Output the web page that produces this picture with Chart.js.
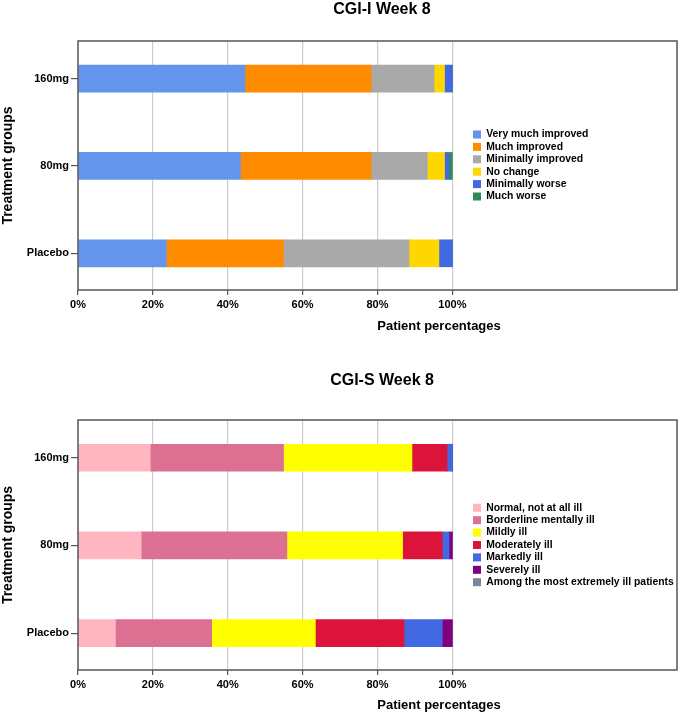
<!DOCTYPE html>
<html><head><meta charset="utf-8">
<script src="https://cdn.jsdelivr.net/npm/chart.js@4/dist/chart.umd.min.js"></script>
<style>
html,body{margin:0;padding:0;background:#fff;overflow:hidden;}
canvas{display:block;}
</style></head>
<body>
<canvas id="c1" width="685" height="359"></canvas>
<canvas id="c2" width="685" height="354"></canvas>
<script>
// ---- data ----
const categories = ['160mg', '80mg', 'Placebo'];
const xTickLabels = ['0%', '20%', '40%', '60%', '80%', '100%'];

const cgiILabels = ['Very much improved', 'Much improved', 'Minimally improved', 'No change', 'Minimally worse', 'Much worse'];
const cgiIColors = ['#6495ED', '#FF8C00', '#A9A9A9', '#FFD700', '#4169E1', '#2E8B57'];
const cgiIVeryMuchImproved = [44.6, 43.4, 23.6];
const cgiIMuchImproved     = [33.7, 34.9, 31.3];
const cgiIMinimallyImproved= [16.8, 15.0, 33.5];
const cgiINoChange         = [2.8, 4.6, 8.0];
const cgiIMinimallyWorse   = [2.1, 1.2, 3.6];
const cgiIMuchWorse        = [0, 0.9, 0];

const cgiSLabels = ['Normal, not at all ill', 'Borderline mentally ill', 'Mildly ill', 'Moderately ill', 'Markedly ill', 'Severely ill', 'Among the most extremely ill patients'];
const cgiSColors = ['#FFB6C1', '#DB7093', '#FFFF00', '#DC143C', '#4169E1', '#800080', '#778899'];
const cgiSNormal      = [19.3, 16.9, 10.0];
const cgiSBorderline  = [35.6, 38.9, 25.7];
const cgiSMildly      = [34.3, 30.9, 27.7];
const cgiSModerately  = [9.4, 10.6, 23.7];
const cgiSMarkedly    = [1.4, 1.8, 10.2];
const cgiSSeverely    = [0, 0.9, 2.7];
const cgiSExtremely   = [0, 0, 0];

// ---- chart ----
Chart.defaults.font.family = '"Liberation Sans", Arial, Helvetica, sans-serif';
Chart.defaults.color = '#000';

const panelLayout = {
  id: 'panelLayout',
  afterLayout(chart, args, opts) {
    const lg = chart.legend;
    if (lg) { lg.left = opts.legendLeft; lg.right = chart.width; lg.width = lg.right - lg.left; }
    const xs = chart.scales.x;
    xs.right = opts.xTitleRight; xs.width = xs.right - xs.left;
    const tb = chart.titleBlock;
    if (tb) { tb.left = opts.titleLeft; tb.right = opts.titleRight; tb.width = tb.right - tb.left; }
  },
  afterDatasetsDraw(chart) {
    const {ctx, chartArea: a} = chart;
    ctx.save();
    ctx.strokeStyle = '#555';
    ctx.lineWidth = 1.5;
    ctx.strokeRect(a.left, a.top, a.right - a.left, a.bottom - a.top);
    ctx.restore();
  }
};

function makeChart(id, titleText, labels, colors, series, cfg) {
  const datasets = labels.map((lab, k) => ({
    label: lab,
    data: categories.map((c, i) => ({x: series[k][i], y: i})),
    backgroundColor: colors[k],
    borderWidth: 0,
    barThickness: 27
  }));
  return new Chart(document.getElementById(id), {
    type: 'bar',
    data: {datasets},
    plugins: [panelLayout],
    options: {
      indexAxis: 'y',
      responsive: false,
      animation: false,
      devicePixelRatio: 1,
      layout: {padding: {left: 0, right: 7, top: 0, bottom: cfg.padBottom}},
      scales: {
        x: {
          type: 'linear', stacked: true, min: 0, max: 160,
          border: {display: false},
          ticks: {stepSize: 20, includeBounds: false, padding: 3,
            font: {size: 11, weight: 'bold'},
            callback: (v, i) => (xTickLabels[i] !== undefined ? xTickLabels[i] : '')},
          grid: {
            tickLength: 5,
            lineWidth: 1.2,
            color: c => (c.tick && c.tick.value > 0 && c.tick.value <= 100 ? '#cccccc' : 'rgba(0,0,0,0)'),
            tickColor: c => (c.tick && c.tick.value <= 100 ? '#555' : 'rgba(0,0,0,0)')
          },
          title: {display: true, text: 'Patient percentages', font: {size: 13, weight: 'bold'},
            padding: {top: cfg.xTitleTop, bottom: cfg.xTitleBottom}}
        },
        y: {
          type: 'linear', stacked: true, reverse: true, min: -0.43, max: 2.42,
          offset: false,
          border: {display: false},
          afterFit: s => { s.width = 78; },
          ticks: {stepSize: 1, includeBounds: false, padding: 2,
            font: {size: 11, weight: 'bold'},
            callback: v => (categories[v] !== undefined ? categories[v] : '')},
          grid: {offset: false, drawOnChartArea: false, tickLength: 7, tickColor: '#555', lineWidth: 1.2},
          title: {display: true, text: 'Treatment groups', font: {size: 14, weight: 'bold'},
            padding: {top: 0, bottom: 2}}
        }
      },
      plugins: {
        panelLayout: {legendLeft: 471, xTitleRight: 800, titleLeft: 78, titleRight: 686},
        title: {display: true, text: titleText, font: {size: 16, weight: 'bold'},
          padding: {top: cfg.titleTop, bottom: cfg.titleBottom}},
        legend: {
          display: true, position: 'right', fullSize: false, maxWidth: 1, align: 'center',
          labels: {boxWidth: 8, boxHeight: 8, padding: 2, font: {size: 10.4, weight: 'bold'}, color: '#000'}
        },
        tooltip: {enabled: true}
      }
    }
  });
}

makeChart('c1', 'CGI-I Week 8', cgiILabels, cgiIColors,
  [cgiIVeryMuchImproved, cgiIMuchImproved, cgiIMinimallyImproved, cgiINoChange, cgiIMinimallyWorse, cgiIMuchWorse],
  {padBottom: 21.2, titleTop: 0, titleBottom: 21.8, xTitleTop: 4, xTitleBottom: 4});

makeChart('c2', 'CGI-S Week 8', cgiSLabels, cgiSColors,
  [cgiSNormal, cgiSBorderline, cgiSMildly, cgiSModerately, cgiSMarkedly, cgiSSeverely, cgiSExtremely],
  {padBottom: 0.2, titleTop: 12.4, titleBottom: 29.4, xTitleTop: 3, xTitleBottom: 0});
</script>
</body></html>
